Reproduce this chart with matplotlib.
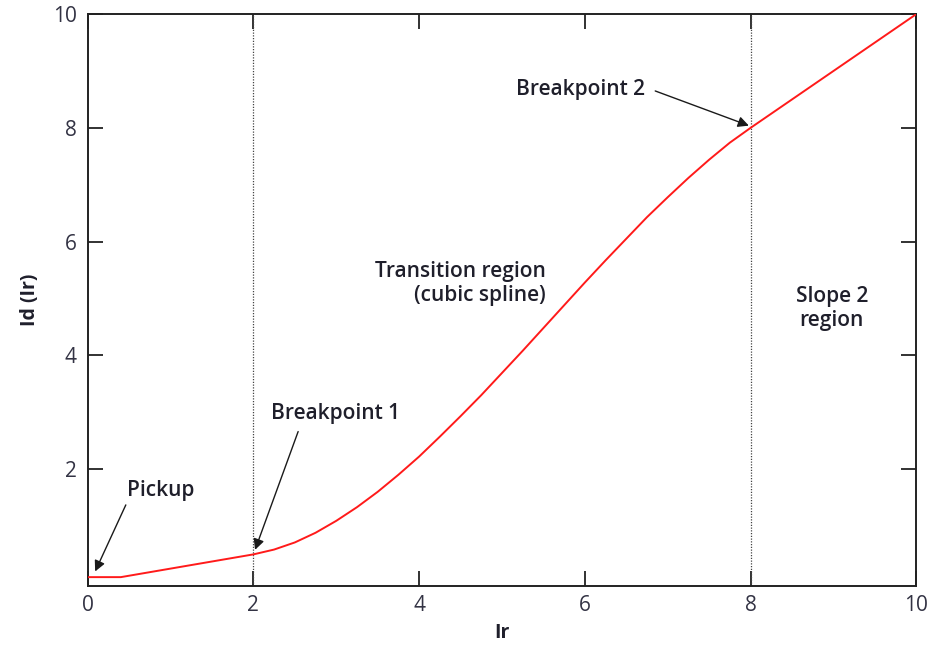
import matplotlib
matplotlib.use("Agg")
import matplotlib.pyplot as plt

# Id(Ir) characteristic: pickup, breakpoint 1 slope, cubic transition, slope 2
ir = [0.0, 0.4, 2.0, 2.25, 2.5, 2.75, 3.0, 3.25, 3.5, 3.75, 4.0, 4.25, 4.5, 4.75,
      5.0, 5.25, 5.5, 5.75, 6.0, 6.25, 6.5, 6.75, 7.0, 7.25, 7.5, 7.75, 8.0, 10.0]
id_ir = [0.1, 0.1, 0.5, 0.585, 0.71, 0.88, 1.09, 1.33, 1.6, 1.9, 2.22, 2.57, 2.93, 3.3,
         3.69, 4.08, 4.48, 4.88, 5.28, 5.67, 6.05, 6.43, 6.78, 7.12, 7.44, 7.74, 8.0, 10.0]

breakpoints = [2, 8]
x_ticks = [0, 2, 4, 6, 8, 10]
y_ticks = [2, 4, 6, 8, 10]

FONT = "Open Sans"
TEXT_COLOR = "#1f1f2b"
LINE_COLOR = "#222222"

fig = plt.figure(figsize=(9.33, 6.45), dpi=100)
ax = fig.add_axes([0.094, 0.092, 0.888, 0.886])

ax.plot(ir, id_ir, color="#ff1a1a", lw=1.4, zorder=3)

for bp in breakpoints:
    ax.axvline(bp, color="#444444", lw=0.9, ls=(0, (1, 1.2)), zorder=2)

ax.set_xlim(0, 10)
ax.set_ylim(-0.05, 10)
ax.set_xticks(x_ticks)
ax.set_yticks(y_ticks)
ax.tick_params(direction="in", length=11, width=1.3, color=LINE_COLOR,
               top=True, right=True, labelsize=15, labelcolor="#333344")
ax.tick_params(axis="x", pad=7)
ax.tick_params(axis="y", pad=8)
for lab in ax.get_xticklabels() + ax.get_yticklabels():
    lab.set_family(FONT)
for sp in ax.spines.values():
    sp.set_linewidth(1.4)
    sp.set_color(LINE_COLOR)

ax.set_xlabel("Ir", family=FONT, fontsize=14, fontweight="bold", color=TEXT_COLOR, labelpad=5)
ax.set_ylabel("Id (Ir)", family=FONT, fontsize=14, fontweight="bold", color=TEXT_COLOR, labelpad=9)

txt = dict(family=FONT, fontsize=15, fontweight="semibold", color=TEXT_COLOR)
arrow = dict(arrowstyle="-|>", color="#1a1a1a", lw=1.0, mutation_scale=16, shrinkA=0, shrinkB=0)

ax.text(0.88, 1.63, "Pickup", ha="center", va="center", **txt)
ax.annotate("", xy=(0.09, 0.2), xytext=(0.46, 1.37), arrowprops=arrow)

ax.text(2.99, 2.97, "Breakpoint 1", ha="center", va="center", **txt)
ax.annotate("", xy=(2.02, 0.58), xytext=(2.54, 2.66), arrowprops=arrow)

ax.text(5.95, 8.68, "Breakpoint 2", ha="center", va="center", **txt)
ax.annotate("", xy=(7.98, 8.04), xytext=(6.85, 8.65), arrowprops=arrow)

ax.text(5.53, 5.27, "Transition region\n(cubic spline)", ha="right", va="center",
        multialignment="right", linespacing=1.2, **txt)
ax.text(8.98, 4.82, "Slope 2\nregion", ha="center", va="center",
        multialignment="center", linespacing=1.2, **txt)

fig.savefig("out.png", dpi=100)
